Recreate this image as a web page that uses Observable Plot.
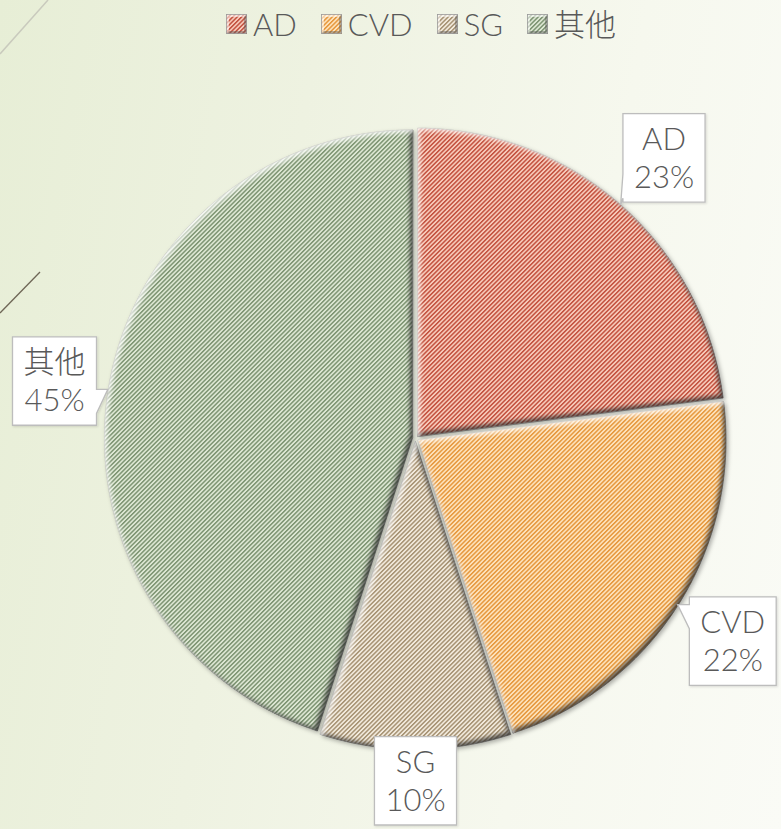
<!DOCTYPE html>
<html>
<head>
<meta charset="utf-8">
<script src="https://cdn.jsdelivr.net/npm/d3@7"></script>
<script src="https://cdn.jsdelivr.net/npm/@observablehq/plot@0.6"></script>
<style>
  html, body { margin: 0; padding: 0; }
  body {
    width: 781px; height: 829px; overflow: hidden;
    background: linear-gradient(100deg, #e7eed6 0%, #eef2e1 35%, #f6f8ee 70%, #fafbf6 100%);
    font-family: Lato, "Noto Sans CJK SC", sans-serif;
  }
  #wrap { position: relative; width: 781px; height: 829px; }
  #legend {
    position: absolute; top: 4px; left: 421px; transform: translateX(-50%);
    display: flex; align-items: center; white-space: nowrap;
    font-size: 31px; font-weight: 300; color: #595959; line-height: 40px;
  }
  .item { display: flex; align-items: center; margin: 0 12px; }
  .item svg { margin-right: 6px; }
  #defs { position: absolute; width: 0; height: 0; }
</style>
</head>
<body>
<svg id="defs" width="0" height="0" aria-hidden="true"><defs id="defroot"></defs></svg>
<div id="wrap">
  <div id="chart"></div>
  <div id="legend"></div>
</div>
<script>
// ---------------- data ----------------
const names = ["AD", "CVD", "SG", "其他"];
const percents = [23, 22, 10, 45];

// ---------------- styles ----------------
const stripeBg = ["#f7c9b9", "#fde2bb", "#f2eadc", "#dde7d3"];
const stripeFg = ["#c24f3c", "#e5963a", "#a49070", "#7b9270"];

const W = 781, H = 829;
const CX = 415, CY = 438, RPX = 308;   // pie layout in pixels
const explodePx = 3;

// ---------------- defs (patterns, filters) ----------------
const NS = "http://www.w3.org/2000/svg";
const defroot = document.getElementById("defroot");
let defsMarkup = "";
names.forEach((n, i) => {
  defsMarkup += `<pattern id="pat${i}" patternUnits="userSpaceOnUse" width="3.1" height="6" patternTransform="rotate(45)">
      <rect width="3.1" height="6" fill="${stripeBg[i]}"/>
      <rect width="1.45" height="6" fill="${stripeFg[i]}"/>
    </pattern>`;
});
defsMarkup += `
  <filter id="bevel" x="-10%" y="-10%" width="120%" height="120%" color-interpolation-filters="sRGB">
    <feGaussianBlur in="SourceAlpha" stdDeviation="2.2" result="b"/>
    <feOffset in="b" dx="-3" dy="-3" result="o"/>
    <feComposite in="SourceAlpha" in2="o" operator="arithmetic" k2="1" k3="-1" result="inner"/>
    <feFlood flood-color="#2e2e2e" flood-opacity="0.8"/>
    <feComposite in2="inner" operator="in" result="innerShadow"/>
    <feOffset in="b" dx="3" dy="3" result="o2"/>
    <feComposite in="SourceAlpha" in2="o2" operator="arithmetic" k2="1" k3="-1" result="inner2"/>
    <feFlood flood-color="#ffffff" flood-opacity="0.75"/>
    <feComposite in2="inner2" operator="in" result="innerLight"/>
    <feGaussianBlur in="SourceAlpha" stdDeviation="2"/>
    <feOffset dx="2" dy="2" result="ds"/>
    <feFlood flood-color="#000000" flood-opacity="0.3"/>
    <feComposite in2="ds" operator="in" result="drop"/>
    <feMerge>
      <feMergeNode in="drop"/>
      <feMergeNode in="SourceGraphic"/>
      <feMergeNode in="innerShadow"/>
      <feMergeNode in="innerLight"/>
    </feMerge>
  </filter>
  <filter id="boxshadow" x="-10%" y="-10%" width="130%" height="130%">
    <feDropShadow dx="1" dy="1" stdDeviation="1" flood-color="#000" flood-opacity="0.12"/>
  </filter>`;
defroot.innerHTML = defsMarkup;

// ---------------- geometry from data ----------------
const arcs = d3.pie().sort(null).value(d => d)(percents);
const e = explodePx / RPX;
const slices = arcs.map((a, i) => {
  const mid = (a.startAngle + a.endAngle) / 2;
  const ox = e * Math.sin(mid), oy = e * Math.cos(mid);
  const pts = [{x: ox, y: oy}];
  const n = Math.max(2, Math.ceil((a.endAngle - a.startAngle) / (Math.PI / 360)));
  for (let k = 0; k <= n; k++) {
    const t = a.startAngle + (a.endAngle - a.startAngle) * k / n;
    pts.push({x: ox + Math.sin(t), y: oy + Math.cos(t)});
  }
  return {name: names[i], pct: percents[i], mid, ox, oy, pts, i};
});

const xDom = [-CX / RPX, (W - CX) / RPX];
const yDom = [-(H - CY) / RPX, CY / RPX];
const LR = 1.22, halfW = 42 / RPX, halfH = 46 / RPX;
const clamp = (v, lo, hi) => Math.max(lo, Math.min(hi, v));
const labels = slices.map(s => ({
  text: `${s.name}\n${s.pct}%`,
  x: clamp(LR * Math.sin(s.mid), xDom[0] + 12 / RPX + halfW, xDom[1] - 2 / RPX - halfW),
  y: clamp(LR * Math.cos(s.mid), yDom[0] + 4 / RPX + halfH, yDom[1] - 4 / RPX - halfH),
  tipX: s.ox + Math.sin(s.mid),
  tipY: s.oy + Math.cos(s.mid)
}));

// ---------------- plot ----------------
const plot = Plot.plot({
  width: W, height: H, margin: 0,
  x: {domain: xDom, axis: null},
  y: {domain: yDom, axis: null},
  style: {background: "transparent", overflow: "visible"},
  marks: [
    ...slices.map(s => Plot.line(s.pts, {
      x: "x", y: "y", fill: `url(#pat${s.i})`, stroke: "#9a9a9a", strokeWidth: 0.6,
      curve: "linear-closed"
    })),
    Plot.text(labels, {
      x: "x", y: "y", text: "text", fontSize: 31, lineHeight: 1.24, fontWeight: 300,
      fill: "#595959", fontFamily: "Lato, 'Noto Sans CJK SC', sans-serif"
    })
  ]
});
document.getElementById("chart").appendChild(plot);

// decorative slide lines (background ornament)
const deco = document.createElementNS(NS, "g");
deco.innerHTML = `<path d="M0,54 L48,0" stroke="#c9cabd" stroke-width="1.5" fill="none"/>
  <path d="M0,313 L40,272" stroke="#6e6656" stroke-width="1.3" fill="none"/>`;
plot.insertBefore(deco, plot.firstChild);

plot.querySelectorAll('g[aria-label="line"] path').forEach(p => p.setAttribute("filter", "url(#bevel)"));

// label callout boxes
const xs = plot.scale("x"), ys = plot.scale("y");
const textG = plot.querySelector('g[aria-label="text"]');
const boxG = document.createElementNS(NS, "g");
textG.parentNode.insertBefore(boxG, textG);
const sm = plot.getScreenCTM();
textG.querySelectorAll("text").forEach((t, k) => {
  const bb = t.getBBox();
  const m = sm.inverse().multiply(t.getScreenCTM());
  const x0 = bb.x * m.a + m.e, y0 = bb.y * m.d + m.f;
  const L = x0 - 11, T = y0 - 5, Rr = x0 + bb.width + 11, B = y0 + bb.height + 7;
  const tx = xs.apply(labels[k].tipX), ty = ys.apply(labels[k].tipY);
  let d;
  const bw = 24;
  if (tx >= L - 2 && tx <= Rr + 2 && ty >= T - 2 && ty <= B + 2) {
    d = `M${L},${T}H${Rr}V${B}H${L}Z`;
  } else if (tx < L) {
    const b1 = clamp(ty, T + 4, B - 4 - bw), b2 = b1 + bw;
    d = `M${L},${T}H${Rr}V${B}H${L}V${b2}L${tx},${ty}L${L},${b1}Z`;
  } else if (tx > Rr) {
    const b1 = clamp(ty, T + 4, B - 4 - bw), b2 = b1 + bw;
    d = `M${L},${T}H${Rr}V${b1}L${tx},${ty}L${Rr},${b2}V${B}H${L}Z`;
  } else if (ty > B) {
    const b1 = clamp(tx, L + 4, Rr - 4 - bw), b2 = b1 + bw;
    d = `M${L},${T}H${Rr}V${B}H${b2}L${tx},${ty}L${b1},${B}H${L}Z`;
  } else {
    const b1 = clamp(tx, L + 4, Rr - 4 - bw), b2 = b1 + bw;
    d = `M${L},${T}H${b1}L${tx},${ty}L${b2},${T}H${Rr}V${B}H${L}Z`;
  }
  const p = document.createElementNS(NS, "path");
  p.setAttribute("d", d);
  p.setAttribute("fill", "#ffffff");
  p.setAttribute("stroke", "#bdbdbd");
  p.setAttribute("stroke-width", "1.3");
  p.setAttribute("filter", "url(#boxshadow)");
  boxG.appendChild(p);
});

// ---------------- legend ----------------
const legend = document.getElementById("legend");
names.forEach((n, i) => {
  const item = document.createElement("div");
  item.className = "item";
  item.innerHTML = `<svg width="21" height="20" viewBox="0 0 21 20">
      <rect x="0" y="0" width="21" height="20" fill="url(#pat${i})"/>
      <polygon points="0,0 21,0 18,3 3,3 3,17 0,20" fill="#ffffff" fill-opacity="0.55"/>
      <polygon points="21,0 21,20 0,20 3,17 18,17 18,3" fill="#5a5a5a" fill-opacity="0.45"/>
      <rect x="0.5" y="0.5" width="20" height="19" fill="none" stroke="#9b9b9b" stroke-width="0.8"/>
    </svg><span>${n}</span>`;
  legend.appendChild(item);
});
</script>
</body>
</html>
